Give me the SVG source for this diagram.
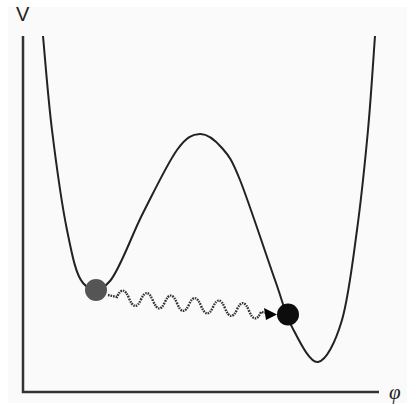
<svg xmlns="http://www.w3.org/2000/svg" width="416" height="405" viewBox="0 0 416 405">
<defs>
<style>
.axis{fill:none;stroke:#333;stroke-width:2.5}
.curve{fill:none;stroke:#222;stroke-width:2}
.wave{fill:none;stroke:#333;stroke-width:2.4;stroke-dasharray:1.6 1}
.lbl{fill:#222}
</style>
</defs>
<rect width="416" height="405" fill="#fff"/>
<rect x="8" y="7" width="399" height="396" fill="#fafafa"/>
<g id="axes">
<path class="axis" d="M23,36 V392 H379"/>
<text class="lbl" x="16" y="21" font-family="Liberation Sans, sans-serif" font-size="20">V</text>
<text class="lbl" x="389" y="399" font-family="Liberation Serif, serif" font-style="italic" font-size="21">φ</text>
</g>
<g id="potential">
<path class="curve" d="M43,36 C44.5,51.7 48,97.7 52,130 C56,162.3 61.8,204.5 67,230 C72.2,255.5 75.8,274.5 83,283 C90.2,291.5 100,292.7 110,281 C120,269.3 131.8,234.8 143,213 C154.2,191.2 167.5,163.2 177,150 C186.5,136.8 192.5,134.3 200,134 C207.5,133.7 215.3,140.3 222,148 C228.7,155.7 231.2,158 240,180 C248.8,202 266.3,255.5 275,280 C283.7,304.5 284.8,313.3 292,327 C299.2,340.7 309.7,363.2 318,362 C326.3,360.8 335.5,342 342,320 C348.5,298 352.7,261.7 357,230 C361.3,198.3 365,162.3 368,130 C371,97.7 373.8,51.7 375,36"/>
</g>
<g id="connectors">
<path class="wave" d="M108,295 L117,297 Q123,283.6 129,298.25 T141,299.5 T153,300.75 T165,302 T177,303.25 T189,304.5 T201,305.75 T213,307 T225,308.25 T237,309.5 T249,310.75 T261,312 L266,312.8"/>
<polygon points="277,314.5 264,308 266,320" fill="#000"/>
</g>
<g id="ball-initial">
<circle cx="96" cy="290" r="11" fill="#555"/>
</g>
<g id="ball-final">
<circle cx="288" cy="314.5" r="11" fill="#0d0d0d"/>
</g>
</svg>
